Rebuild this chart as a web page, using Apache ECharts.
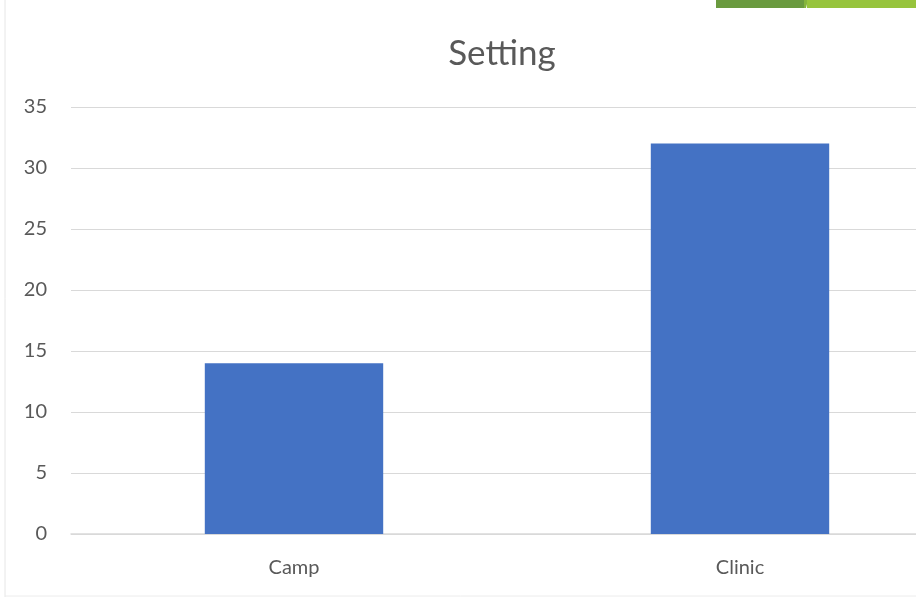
<!DOCTYPE html>
<html>
<head>
<meta charset="utf-8">
<script src="https://cdn.jsdelivr.net/npm/echarts@6/dist/echarts.min.js"></script>
<style>html,body{margin:0;padding:0;background:#fff;overflow:hidden;width:916px;height:597px;}#c{width:963px;height:597px;}</style>
</head>
<body>
<div id="c"></div>
<script>
const categories = ["Camp", "Clinic"];
const values = [14, 32];
const yTicks = [0, 5, 10, 15, 20, 25, 30, 35];
const titleText = "Setting";

const chart = echarts.init(document.getElementById('c'), null, {renderer: 'canvas'});
chart.setOption({
  backgroundColor: '#ffffff',
  animation: false,
  title: {
    text: titleText, left: 497, top: 31, textAlign: 'center',
    textStyle: {fontFamily: 'Lato', fontSize: 35, fontWeight: 'normal', color: '#595959'}
  },
  grid: {left: 71, right: 0, top: 107, bottom: 63, containLabel: false},
  xAxis: {
    type: 'category', data: categories,
    axisLine: {lineStyle: {color: '#d9d9d9', width: 1.5}},
    axisTick: {show: false},
    axisLabel: {margin: 24, fontFamily: 'Lato', fontSize: 20, color: '#595959'}
  },
  yAxis: {
    type: 'value', min: yTicks[0], max: yTicks[yTicks.length - 1], interval: 5,
    axisLine: {show: false}, axisTick: {show: false},
    splitLine: {lineStyle: {color: '#d9d9d9', width: 1.2}},
    axisLabel: {margin: 24, fontFamily: 'Lato', fontSize: 20, color: '#595959'}
  },
  series: [{
    type: 'bar', data: values, barWidth: '40%',
    itemStyle: {color: '#4472c4'}
  }],
  graphic: [
    {type: 'line', shape: {x1: 5, y1: 0, x2: 5, y2: 597}, style: {stroke: '#e6e6e6', lineWidth: 1}},
    {type: 'line', shape: {x1: 5, y1: 596, x2: 916, y2: 596}, style: {stroke: '#ececec', lineWidth: 1}},
    {type: 'rect', shape: {x: 716, y: 0, width: 88, height: 8}, style: {fill: '#6a9a3f'}},
    {type: 'polygon', shape: {points: [[804, 0], [808, 0], [806, 8], [804, 8]]}, style: {fill: '#84b43c'}},
    {type: 'rect', shape: {x: 807, y: 0, width: 109, height: 8}, style: {fill: '#97c43d'}}
  ]
});
</script>
</body>
</html>
